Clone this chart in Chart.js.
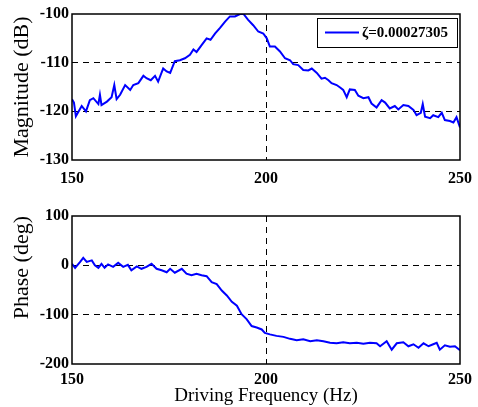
<!DOCTYPE html>
<html>
<head>
<meta charset="utf-8">
<script src="https://cdn.jsdelivr.net/npm/chart.js@4.4.1/dist/chart.umd.min.js"></script>
<style>
  html, body { margin: 0; padding: 0; background: #fff; }
  #wrap { position: relative; width: 478px; height: 407px; }
  #magChart { position: absolute; left: 0; top: 0; }
  #phaseChart { position: absolute; left: 0; top: 200px; }
</style>
</head>
<body>
<div id="wrap">
  <canvas id="magChart" width="478" height="200"></canvas>
  <canvas id="phaseChart" width="478" height="207"></canvas>
</div>
<script>
// ---------------- data ----------------
const seriesLabel = "\u03B6=0.00027305";

const magFreq = [150, 150.5, 151, 152.5, 153.6, 154.6, 155.5, 156.8, 157.2, 157.6, 159, 160.2, 160.9, 161.5, 162.4,
  163.7, 165, 165.8, 167.1, 168.4, 169.2, 170.3, 171.4, 172.2, 173.5, 174.4, 175.3, 176.5, 177.8, 179.1,
  180.4, 181.3, 182.1, 183.4, 184.7, 185.7, 186.9, 188.1, 189.4, 190.7, 192, 193.3, 194.2, 195.4, 196.7,
  198, 199.3, 200.2, 201, 202.3, 203.6, 204.9, 206.2, 207, 208.3, 209.6, 210.9, 211.8, 213.1, 214.3,
  215.2, 216.1, 216.9, 218.2, 219.1, 219.9, 220.8, 221.6, 222.9, 223.8, 225.1, 226.4, 227.2, 228.5, 229.8,
  230.7, 231.9, 233.2, 234.1, 235.4, 236.7, 238, 238.8, 239.9, 240.4, 241, 242.3, 243.1, 244.4, 245.3,
  246.1, 247.4, 248.3, 249.1, 250];
const magDb = [-117.5, -118.2, -121, -118.9, -120, -117.7, -117.3, -118.5, -116.6, -118.7, -118, -117.1, -114.6, -117.5, -116.6,
  -114.6, -115.6, -114.6, -114.2, -112.7, -113.2, -113.6, -112.7, -113.9, -111.2, -111.8, -112.1, -109.7, -109.5, -109.1,
  -108.4, -107.3, -107.8, -106.4, -105, -105.3, -104, -102.9, -101.6, -100.5, -100.5, -100, -100, -101.2, -102.3,
  -103.6, -104, -105, -106.7, -106.7, -107.7, -109.1, -109.5, -110.3, -110.5, -111.5, -111.6, -111.2, -112.1, -113.3,
  -113.1, -113.6, -114.2, -114.6, -115.1, -115.6, -117.1, -115.5, -115.6, -116.8, -117.3, -117.1, -118.4, -119.2, -117.7,
  -118.2, -119.4, -118.9, -119.6, -118.7, -118.9, -119.7, -120.8, -120.3, -118.5, -121.1, -121.4, -120.8, -121.2, -120.3,
  -121.8, -122, -122.3, -121.2, -123.3];

const phaseFreq = [150, 150.8, 152.1, 152.9, 153.8, 155.1, 155.9, 156.8, 157.6, 158.4, 159.3, 160.6, 161.9, 163.2, 164.4,
  165.3, 166.7, 167.9, 169.2, 170.5, 171.8, 173.1, 174.4, 175.3, 176.5, 178.3, 179.5, 180.8, 182.1, 183.4,
  184.7, 186, 187.3, 188.6, 189.9, 191.2, 192.5, 193.7, 195, 196.3, 197.6, 198.9, 199.7, 201, 202.7,
  204.5, 206.2, 207.9, 209.6, 211.4, 213.1, 214.8, 216.5, 218.2, 219.9, 221.6, 223.4, 225.1, 226.8, 228.5,
  229.4, 231.1, 232.4, 233.7, 235.4, 236.7, 238, 239.3, 240.6, 241.9, 243.1, 244, 244.8, 246.1, 247.4,
  248.7, 250];
const phaseDeg = [3, -5, 7, 15, 7, 10, 0, -5, 3, -5, 2, -3, 5, -3, 1,
  -10, -2, -7, -3, 3, -7, -10, -14, -7, -15, -7, -17, -20, -17, -20,
  -22, -34, -38, -51, -61, -74, -82, -99, -109, -123, -126, -130, -137, -140, -143,
  -145, -149, -152, -150, -154, -152, -154, -157, -158, -156, -158, -157, -159, -157, -158,
  -164, -154, -171, -158, -156, -164, -160, -167, -158, -164, -160, -157, -171, -162, -165,
  -164, -172];

const freqTicks = [150, 200, 250];
const magTicks = [-130, -120, -110, -100];
const phaseTicks = [-200, -100, 0, 100];

// ---------------- shared styling ----------------
const serif = "'Liberation Serif', 'Times New Roman', serif";
const lineBlue = "#0000ff";

function toPoints(xs, ys) {
  return xs.map((x, i) => ({ x: x, y: ys[i] }));
}

// dashed grid only on the interior ticks, the frame covers the edges
function innerGrid(ctx) {
  const n = ctx.scale.ticks.length;
  return ctx.index === 0 || ctx.index === n - 1 ? "rgba(0,0,0,0)" : "#000";
}

// solid box around the plot area
const framePlugin = {
  id: "frame",
  afterDraw(chart) {
    const { ctx, chartArea } = chart;
    ctx.save();
    ctx.strokeStyle = "#000";
    ctx.lineWidth = 1.5;
    ctx.setLineDash([]);
    ctx.strokeRect(chartArea.left, chartArea.top, chartArea.right - chartArea.left, chartArea.bottom - chartArea.top);
    ctx.restore();
  },
};

// boxed legend in the upper right corner
const boxLegendPlugin = {
  id: "boxLegend",
  afterDraw(chart) {
    const { ctx, chartArea } = chart;
    const ds = chart.data.datasets[0];
    const right = chartArea.right - 3;
    const top = chartArea.top + 4;
    const w = 140, h = 29;
    ctx.save();
    ctx.fillStyle = "#fff";
    ctx.fillRect(right - w, top, w, h);
    ctx.strokeStyle = "#000";
    ctx.lineWidth = 1;
    ctx.strokeRect(right - w + 0.5, top + 0.5, w, h);
    ctx.strokeStyle = ds.borderColor;
    ctx.lineWidth = 2;
    ctx.beginPath();
    ctx.moveTo(right - w + 8, top + h / 2);
    ctx.lineTo(right - w + 42, top + h / 2);
    ctx.stroke();
    ctx.fillStyle = "#000";
    ctx.font = "bold 15px " + serif;
    ctx.textBaseline = "middle";
    ctx.textAlign = "left";
    ctx.fillText(ds.label, right - w + 45, top + h / 2 + 1);
    ctx.restore();
  },
};

function xScale(withTitle, tickPad, height) {
  return {
    type: "linear",
    min: 150,
    max: 250,
    afterBuildTicks: (s) => { s.ticks = freqTicks.map((v) => ({ value: v })); },
    afterFit: (s) => {
      s.height = height;
      // let the layout padding alone decide the plot edges
      s.paddingLeft = 0;
      s.paddingRight = 0;
    },
    border: { display: false, dash: [6, 5] },
    grid: { color: innerGrid, lineWidth: 1, drawTicks: false },
    ticks: {
      padding: tickPad,
      color: "#000",
      font: { family: serif, size: 16, weight: "bold" },
      maxRotation: 0,
    },
    title: {
      display: withTitle,
      text: "Driving Frequency (Hz)",
      color: "#000",
      font: { family: serif, size: 19 },
      padding: { top: 0, bottom: 0 },
    },
  };
}

function yScale(min, max, tickList, titleText, titleAlign) {
  return {
    type: "linear",
    min: min,
    max: max,
    afterBuildTicks: (s) => { s.ticks = tickList.map((v) => ({ value: v })); },
    afterFit: (s) => {
      s.width = 72;
      s.paddingTop = 0;
      s.paddingBottom = 0;
    },
    border: { display: false, dash: [6, 5] },
    grid: { color: innerGrid, lineWidth: 1, drawTicks: false },
    ticks: {
      padding: 3,
      color: "#000",
      font: { family: serif, size: 16, weight: "bold" },
    },
    title: {
      display: true,
      text: titleText,
      align: titleAlign,
      color: "#000",
      font: { family: serif, size: 22 },
      padding: { top: 9, bottom: 0 },
    },
  };
}

// ---------------- magnitude ----------------
new Chart(document.getElementById("magChart"), {
  type: "line",
  data: {
    datasets: [{
      label: seriesLabel,
      data: toPoints(magFreq, magDb),
      borderColor: lineBlue,
      borderWidth: 2,
      pointRadius: 0,
      tension: 0,
      fill: false,
    }],
  },
  options: {
    responsive: false,
    animation: false,
    layout: { padding: { top: 14, right: 18, left: 0, bottom: 0 } },
    plugins: { legend: { display: false }, tooltip: { enabled: false } },
    scales: {
      x: xScale(false, 9, 40),
      y: yScale(-130, -100, magTicks, "Magnitude (dB)", "center"),
    },
  },
  plugins: [framePlugin, boxLegendPlugin],
});

// ---------------- phase ----------------
new Chart(document.getElementById("phaseChart"), {
  type: "line",
  data: {
    datasets: [{
      label: seriesLabel,
      data: toPoints(phaseFreq, phaseDeg),
      borderColor: lineBlue,
      borderWidth: 2,
      pointRadius: 0,
      tension: 0,
      fill: false,
    }],
  },
  options: {
    responsive: false,
    animation: false,
    layout: { padding: { top: 16, right: 18, left: 0, bottom: 0 } },
    plugins: { legend: { display: false }, tooltip: { enabled: false } },
    scales: {
      x: xScale(true, 6, 43),
      y: yScale(-200, 100, phaseTicks, "Phase (deg)", "end"),
    },
  },
  plugins: [framePlugin],
});
</script>
</body>
</html>
